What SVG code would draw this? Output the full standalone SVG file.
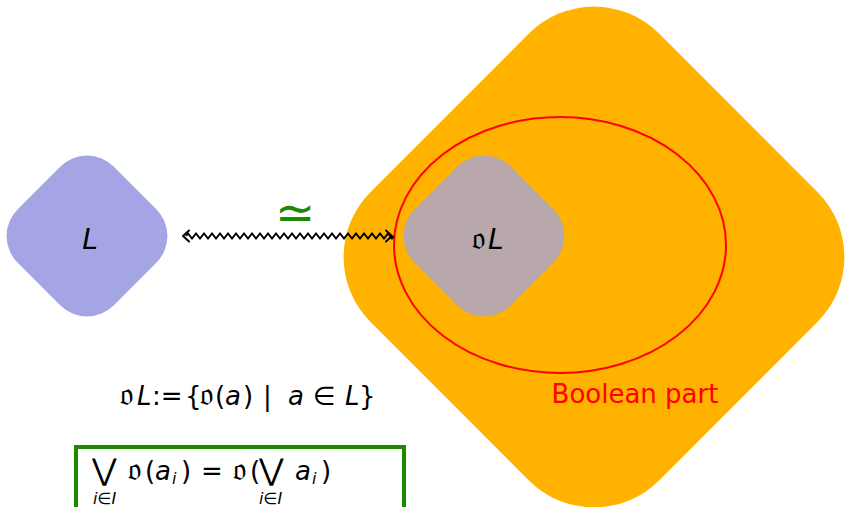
<svg xmlns="http://www.w3.org/2000/svg" width="845" height="507" viewBox="0 0 845 507">
<style>
.t{font-family:"DejaVu Sans",sans-serif;fill:#000}
.i{font-style:italic}
.math{font-size:26px}
.fr{font-size:32px}
.sub{font-size:16px;font-style:italic}
.big{font-size:30px}
.head{fill:none;stroke:#000;stroke-width:2;stroke-linecap:round;stroke-linejoin:round}
</style>
<rect width="845" height="507" fill="#fff"/>
<g id="big">
<rect x="-204" y="-204" width="408" height="408" rx="92" fill="#FFB300" transform="translate(594,257) rotate(45)"/>
</g>
<g id="boolean">
<ellipse cx="560" cy="245" rx="166" ry="128" fill="none" stroke="#FF0000" stroke-width="2"/>
<text x="635" y="403" font-family="DejaVu Sans,sans-serif" font-size="26" fill="#FF0000" text-anchor="middle">Boolean part</text>
</g>
<g id="L">
<rect x="-68" y="-68" width="136" height="136" rx="38" fill="#A5A4E4" transform="translate(87,236) rotate(45)"/>
<text x="90" y="249" class="t i" font-size="28" text-anchor="middle">L</text>
</g>
<g id="oL">
<rect x="-68" y="-68" width="136" height="136" rx="38" fill="#B8A7AB" transform="translate(484,236) rotate(45)"/>
<text y="249" class="t" font-size="28"><tspan x="472" class="fr">𝔬</tspan><tspan x="488" class="i">L</tspan></text>
</g>
<g id="connectors">
<path d="M186,236 l2,-2.5 l4,5 l4,-5 l4,5 l4,-5 l4,5 l4,-5 l4,5 l4,-5 l4,5 l4,-5 l4,5 l4,-5 l4,5 l4,-5 l4,5 l4,-5 l4,5 l4,-5 l4,5 l4,-5 l4,5 l4,-5 l4,5 l4,-5 l4,5 l4,-5 l4,5 l4,-5 l4,5 l4,-5 l4,5 l4,-5 l4,5 l4,-5 l4,5 l4,-5 l4,5 l4,-5 l4,5 l4,-5 l4,5 l4,-5 l4,5 l4,-5 l4,5 l4,-5 l4,5 l4,-5 l4,5 l4,-5 l4,5 l2,-2.5" fill="none" stroke="#000" stroke-width="2"/>
<path class="head" d="M189,230.5 L183,236 L189,241.5"/>
<path class="head" d="M386,230.5 L392,236 L386,241.5"/>
<text x="295" y="229" font-family="DejaVu Sans,sans-serif" font-size="48" fill="#1A8A00" text-anchor="middle">≃</text>
</g>
<g id="def">
<text y="405" class="t math"><tspan x="120" class="fr">𝔬</tspan><tspan x="137" class="i">L</tspan><tspan x="152">:=</tspan><tspan x="185">{</tspan><tspan x="200" class="fr">𝔬</tspan><tspan x="215">(</tspan><tspan x="225" class="i">a</tspan><tspan x="243">)</tspan><tspan x="263">|</tspan><tspan x="288" class="i">a</tspan><tspan x="313">∈</tspan><tspan x="345" class="i">L</tspan><tspan x="359">}</tspan></text>
</g>
<g id="box">
<rect x="76" y="447" width="328" height="80" fill="none" stroke="#1A8A00" stroke-width="4"/>
<text y="480" class="t math"><tspan x="92" class="big">⋁</tspan><tspan x="128" class="fr">𝔬</tspan><tspan x="145">(</tspan><tspan x="155" class="i">a</tspan><tspan x="172" class="sub" dy="4">i</tspan><tspan x="181" dy="-4">)</tspan><tspan x="201">=</tspan><tspan x="233" class="fr">𝔬</tspan><tspan x="250">(</tspan><tspan x="259" class="big">⋁</tspan><tspan x="295" class="i">a</tspan><tspan x="312" class="sub" dy="4">i</tspan><tspan x="321" dy="-4">)</tspan></text>
<text x="93" y="504" class="t sub">i∈I</text>
<text x="259" y="504" class="t sub">i∈I</text>
</g>
</svg>
